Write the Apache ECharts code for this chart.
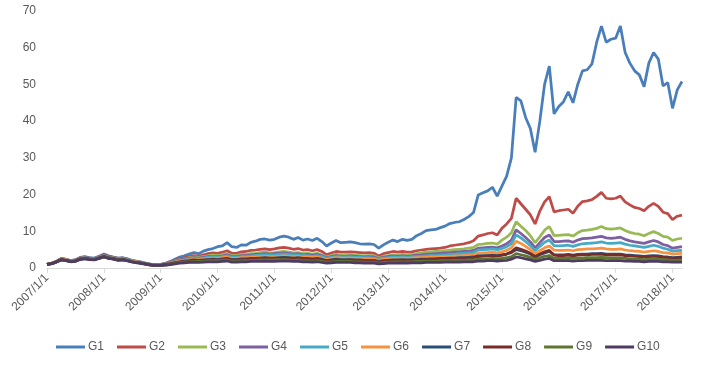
<!DOCTYPE html>
<html>
<head>
<meta charset="utf-8">
<script src="https://cdn.jsdelivr.net/npm/echarts@6/dist/echarts.min.js"></script>
<style>
html,body{margin:0;padding:0;background:#fff;}
#chart{width:702px;height:366px;}
</style>
</head>
<body>
<div id="chart"></div>
<script>
// Monthly categories 2007/1/1 .. 2018/3/1
const startYear = 2007, monthCount = 135;
const categories = [];
for (let k = 0; k < monthCount; k++) {
  const y = startYear + Math.floor(k / 12), m = (k % 12) + 1;
  categories.push(y + '/' + m + '/1');
}
const yTicks = [0, 10, 20, 30, 40, 50, 60, 70];
const seriesNames = ['G1','G2','G3','G4','G5','G6','G7','G8','G9','G10'];

const G1 = [1.0,1.3,1.8,2.6,2.4,2.0,2.2,2.9,3.1,2.8,2.7,3.2,
3.8,3.3,3.0,2.7,2.8,2.5,2.0,1.8,1.6,1.3,1.0,0.9,
1.0,1.3,1.8,2.4,3.0,3.3,3.8,4.2,3.9,4.6,5.0,5.3,
5.8,6.0,6.9,5.8,5.6,6.3,6.2,7.0,7.3,7.8,7.9,7.6,
7.8,8.4,8.7,8.4,7.8,8.3,7.6,7.9,7.5,8.1,7.2,6.0,
6.8,7.5,6.9,7.0,7.1,6.9,6.6,6.5,6.6,6.4,5.4,6.3,
7.0,7.6,7.2,7.8,7.5,7.8,8.8,9.4,10.2,10.4,10.5,11.0,
11.4,12.1,12.4,12.6,13.2,14.0,15.1,19.9,20.5,21.0,22.0,19.6,
22.3,25.0,30.0,46.5,45.5,41.0,38.0,31.5,40.0,50.0,55.0,42.0,
44.0,45.3,48.0,45.0,50.0,53.7,54.0,55.6,61.5,65.9,61.5,62.3,
62.6,65.9,58.7,55.8,53.7,52.6,49.4,55.8,58.7,56.9,49.6,50.5,
43.5,48.5,50.8];
const G2 = [1.0,1.3,1.8,2.5,2.3,2.0,2.2,2.8,3.0,2.7,2.6,3.1,
3.6,3.2,2.9,2.6,2.7,2.4,2.0,1.8,1.5,1.2,1.0,0.9,
1.0,1.2,1.6,2.1,2.5,2.8,3.1,3.4,3.2,3.6,3.9,4.1,
4.0,4.3,4.7,4.0,4.0,4.4,4.5,4.8,4.9,5.1,5.2,5.0,
5.2,5.5,5.6,5.4,5.1,5.3,4.9,5.0,4.7,5.0,4.5,3.6,
4.1,4.5,4.3,4.3,4.4,4.3,4.2,4.1,4.2,4.0,3.3,3.9,
4.2,4.5,4.3,4.5,4.3,4.4,4.7,4.9,5.1,5.2,5.3,5.4,
5.6,6.0,6.2,6.4,6.6,6.9,7.4,8.7,9.0,9.4,9.6,9.0,
10.8,12.0,13.5,19.0,17.5,16.0,14.5,12.0,15.5,18.0,19.4,15.3,
15.6,15.8,16.0,14.9,16.8,18.1,18.3,18.6,19.5,20.6,19.0,18.8,
19.0,19.6,18.0,17.2,16.5,16.2,15.6,16.8,17.6,16.8,15.2,14.8,
13.2,14.1,14.4];
const G3 = [1.0,1.3,1.8,2.5,2.3,1.9,2.1,2.7,2.9,2.6,2.5,3.0,
3.4,3.0,2.8,2.5,2.6,2.3,1.9,1.7,1.5,1.2,0.9,0.8,
0.9,1.1,1.5,1.9,2.3,2.5,2.8,3.0,2.9,3.1,3.3,3.5,
3.4,3.6,3.9,3.4,3.4,3.7,3.7,3.9,4.0,4.2,4.3,4.1,
4.2,4.4,4.5,4.3,4.1,4.2,3.9,4.0,3.8,4.0,3.6,3.0,
3.4,3.7,3.5,3.5,3.6,3.5,3.4,3.3,3.4,3.3,2.8,3.2,
3.4,3.6,3.5,3.7,3.6,3.7,3.9,4.1,4.3,4.4,4.5,4.6,
4.7,4.9,5.0,5.1,5.2,5.4,5.6,6.4,6.5,6.7,6.8,6.5,
7.6,8.4,9.6,12.6,11.4,10.2,8.8,6.9,8.5,10.3,11.3,8.8,
8.9,9.0,9.1,8.7,9.6,10.2,10.3,10.5,10.8,11.3,10.7,10.6,
10.7,10.9,10.2,9.7,9.4,9.2,8.8,9.4,9.9,9.4,8.6,8.4,
7.5,7.9,8.1];
const G4 = [1.0,1.3,1.8,2.5,2.3,1.9,2.1,2.7,2.9,2.6,2.5,3.0,
3.4,3.0,2.7,2.4,2.5,2.2,1.8,1.6,1.4,1.1,0.9,0.8,
0.9,1.1,1.4,1.8,2.2,2.4,2.6,2.8,2.7,2.9,3.1,3.2,
3.1,3.3,3.6,3.1,3.1,3.4,3.4,3.6,3.7,3.8,3.9,3.8,
3.9,4.0,4.1,4.0,3.8,3.9,3.6,3.7,3.5,3.7,3.3,2.8,
3.1,3.4,3.2,3.2,3.3,3.2,3.1,3.0,3.1,3.0,2.6,2.9,
3.1,3.3,3.2,3.3,3.2,3.3,3.5,3.6,3.8,3.8,3.9,4.0,
4.1,4.2,4.3,4.4,4.5,4.6,4.8,5.4,5.5,5.6,5.7,5.5,
6.0,6.6,7.6,10.4,9.4,8.3,7.1,5.5,6.9,8.3,9.0,7.2,
7.2,7.3,7.4,7.0,7.6,8.0,8.1,8.2,8.4,8.6,8.2,8.1,
8.2,8.4,7.8,7.4,7.1,6.9,6.7,7.1,7.5,7.1,6.4,6.1,
5.4,5.6,5.8];
const G5 = [1.0,1.3,1.7,2.4,2.2,1.9,2.1,2.6,2.8,2.5,2.5,2.9,
3.3,2.9,2.7,2.4,2.5,2.2,1.8,1.6,1.4,1.1,0.9,0.8,
0.9,1.0,1.3,1.7,2.0,2.2,2.4,2.6,2.5,2.7,2.9,3.0,
2.9,3.1,3.3,2.9,2.9,3.1,3.1,3.3,3.4,3.5,3.6,3.5,
3.5,3.7,3.8,3.7,3.5,3.6,3.4,3.4,3.2,3.4,3.1,2.6,
2.9,3.1,3.0,3.0,3.0,2.9,2.9,2.8,2.8,2.7,2.4,2.7,
2.8,3.0,2.9,3.0,2.9,3.0,3.1,3.2,3.3,3.4,3.4,3.5,
3.6,3.7,3.8,3.9,4.0,4.1,4.2,4.9,5.0,5.1,5.2,5.0,
5.3,5.8,6.6,9.0,8.2,7.2,6.1,4.7,5.9,7.0,7.6,6.1,
6.0,6.1,6.2,5.9,6.3,6.6,6.7,6.8,6.9,7.1,6.8,6.7,
6.8,6.9,6.5,6.2,6.0,5.8,5.6,5.9,6.2,5.9,5.4,5.1,
4.6,4.7,4.8];
const G6 = [1.0,1.3,1.7,2.4,2.2,1.8,2.0,2.6,2.7,2.5,2.4,2.8,
3.2,2.8,2.6,2.3,2.4,2.1,1.8,1.6,1.3,1.1,0.9,0.8,
0.9,1.0,1.3,1.6,1.9,2.0,2.2,2.4,2.3,2.5,2.6,2.7,
2.6,2.8,3.0,2.6,2.6,2.8,2.8,2.9,3.0,3.1,3.2,3.1,
3.1,3.2,3.3,3.2,3.1,3.2,3.0,3.0,2.9,3.0,2.7,2.3,
2.6,2.8,2.7,2.7,2.7,2.6,2.6,2.5,2.5,2.4,2.1,2.4,
2.5,2.6,2.6,2.7,2.6,2.7,2.8,2.8,2.9,3.0,3.0,3.1,
3.1,3.2,3.3,3.3,3.4,3.5,3.6,4.0,4.1,4.2,4.3,4.1,
4.4,4.8,5.5,7.3,6.7,5.9,5.0,3.8,4.7,5.5,6.0,4.9,
4.8,4.8,4.9,4.7,5.0,5.1,5.2,5.2,5.3,5.4,5.2,5.1,
5.1,5.2,4.9,4.7,4.6,4.5,4.3,4.5,4.7,4.5,4.2,4.1,
3.8,3.9,4.0];
const G7 = [1.0,1.2,1.7,2.3,2.1,1.8,2.0,2.5,2.7,2.4,2.4,2.8,
3.2,2.8,2.6,2.3,2.4,2.1,1.7,1.5,1.3,1.1,0.9,0.8,
0.8,1.0,1.2,1.5,1.7,1.9,2.0,2.2,2.1,2.2,2.3,2.4,
2.3,2.5,2.6,2.3,2.3,2.5,2.5,2.6,2.6,2.7,2.8,2.7,
2.7,2.8,2.9,2.8,2.7,2.8,2.6,2.6,2.5,2.6,2.4,2.0,
2.2,2.4,2.3,2.3,2.3,2.2,2.2,2.1,2.1,2.1,1.8,2.0,
2.1,2.2,2.2,2.3,2.2,2.3,2.3,2.4,2.4,2.5,2.5,2.6,
2.6,2.7,2.7,2.8,2.8,2.9,3.0,3.3,3.4,3.4,3.5,3.4,
3.6,3.8,4.2,5.0,4.7,4.3,3.8,3.0,3.6,4.1,4.5,3.6,
3.6,3.6,3.7,3.5,3.7,3.8,3.8,3.9,3.9,4.0,3.8,3.8,
3.8,3.8,3.6,3.5,3.4,3.3,3.2,3.3,3.4,3.3,3.1,3.0,
2.8,2.9,3.0];
const G8 = [1.0,1.2,1.7,2.3,2.1,1.8,1.9,2.5,2.6,2.4,2.3,2.7,
3.1,2.7,2.5,2.2,2.3,2.0,1.7,1.5,1.3,1.0,0.8,0.7,
0.8,0.9,1.1,1.4,1.6,1.8,1.9,2.0,2.0,2.1,2.2,2.3,
2.2,2.3,2.5,2.2,2.2,2.3,2.3,2.4,2.5,2.5,2.6,2.5,
2.5,2.6,2.7,2.6,2.5,2.6,2.4,2.4,2.3,2.4,2.2,1.9,
2.1,2.2,2.1,2.1,2.2,2.1,2.0,2.0,2.0,1.9,1.7,1.9,
2.0,2.1,2.0,2.1,2.1,2.1,2.2,2.2,2.3,2.3,2.4,2.4,
2.5,2.5,2.6,2.6,2.7,2.7,2.8,3.1,3.2,3.3,3.3,3.2,
3.5,3.8,4.4,5.5,5.1,4.6,4.0,3.1,3.8,4.4,4.8,3.5,
3.4,3.4,3.5,3.3,3.5,3.6,3.6,3.7,3.7,3.8,3.6,3.5,
3.5,3.6,3.4,3.3,3.2,3.1,3.0,3.1,3.2,3.1,2.9,2.8,
2.6,2.7,2.8];
const G9 = [1.0,1.2,1.6,2.2,2.0,1.7,1.9,2.4,2.6,2.3,2.3,2.6,
3.0,2.7,2.5,2.2,2.2,2.0,1.7,1.5,1.3,1.0,0.8,0.7,
0.7,0.8,1.0,1.3,1.5,1.6,1.7,1.8,1.8,1.9,2.0,2.0,
2.0,2.1,2.2,1.9,1.9,2.0,2.0,2.1,2.1,2.2,2.2,2.2,
2.2,2.3,2.3,2.2,2.1,2.2,2.0,2.0,1.9,2.0,1.8,1.6,
1.7,1.8,1.8,1.8,1.8,1.7,1.7,1.6,1.6,1.6,1.4,1.5,
1.6,1.7,1.7,1.7,1.7,1.7,1.8,1.8,1.9,1.9,1.9,2.0,
2.0,2.0,2.1,2.1,2.1,2.2,2.2,2.4,2.5,2.5,2.6,2.5,
2.6,2.8,3.1,3.9,3.6,3.3,2.9,2.4,2.8,3.2,3.4,2.6,
2.6,2.6,2.7,2.6,2.7,2.7,2.8,2.8,2.8,2.9,2.8,2.7,
2.7,2.7,2.6,2.5,2.5,2.4,2.3,2.4,2.4,2.4,2.3,2.2,
2.1,2.1,2.2];
const G10 = [1.0,1.2,1.6,2.2,2.0,1.7,1.8,2.3,2.5,2.3,2.2,2.6,
3.0,2.6,2.4,2.1,2.2,1.9,1.6,1.4,1.2,1.0,0.8,0.7,
0.7,0.8,0.9,1.1,1.3,1.4,1.5,1.6,1.5,1.6,1.7,1.7,
1.7,1.8,1.9,1.6,1.6,1.7,1.7,1.8,1.8,1.8,1.9,1.8,
1.8,1.9,1.9,1.9,1.8,1.8,1.7,1.7,1.6,1.7,1.5,1.3,
1.4,1.5,1.5,1.5,1.5,1.4,1.4,1.3,1.3,1.3,1.1,1.2,
1.3,1.3,1.3,1.4,1.3,1.4,1.4,1.4,1.5,1.5,1.5,1.5,
1.6,1.6,1.6,1.6,1.7,1.7,1.7,1.9,1.9,2.0,2.0,1.9,
2.0,2.1,2.4,3.0,2.8,2.5,2.2,1.8,2.1,2.4,2.6,2.0,
2.0,2.0,2.0,1.9,2.0,2.0,2.1,2.1,2.1,2.1,2.0,2.0,
2.0,2.0,1.9,1.9,1.8,1.8,1.7,1.8,1.8,1.8,1.7,1.7,
1.6,1.6,1.6];

const seriesData = [G1,G2,G3,G4,G5,G6,G7,G8,G9,G10];
const colors = ['#4A7EBB','#BE4B48','#98B954','#7D60A0','#46AAC5','#F69240','#2C4D75','#772C2A','#5F7530','#4D3B62'];

const chart = echarts.init(document.getElementById('chart'), null, {renderer:'canvas'});
chart.setOption({
  animation: false,
  backgroundColor: '#ffffff',
  color: colors,
  grid: {left: 47, right: 20, top: 11, bottom: 98, containLabel: false},
  legend: {
    data: seriesNames,
    left: 51, top: 336,
    itemWidth: 29, itemHeight: 3, itemGap: 13,
    icon: 'rect',
    textStyle: {color: '#595959', fontSize: 12, padding: [0,0,0,-2], fontFamily: 'Liberation Sans Narrow, Arial, sans-serif'}
  },
  xAxis: {
    type: 'category',
    data: categories,
    boundaryGap: false,
    axisLine: {lineStyle: {color: '#D9D9D9', width: 1}},
    axisTick: {interval: 11, length: 5, lineStyle: {color: '#D9D9D9'}},
    axisLabel: {interval: 11, rotate: 45, color: '#595959', fontSize: 12, margin: 8,
      fontFamily: 'Liberation Sans Narrow, Arial, sans-serif'},
    splitLine: {show: false}
  },
  yAxis: {
    type: 'value',
    min: yTicks[0], max: yTicks[yTicks.length-1], interval: 10,
    axisLine: {show: false},
    axisTick: {show: false},
    splitLine: {show: false},
    axisLabel: {color: '#595959', fontSize: 12, margin: 11, fontFamily: 'Arial, sans-serif'}
  },
  series: seriesNames.map((n, i) => ({
    name: n, type: 'line', data: seriesData[i],
    showSymbol: false, symbol: 'none',
    lineStyle: {width: 2.75, color: colors[i]},
    itemStyle: {color: colors[i]}
  }))
});
</script>
</body>
</html>
